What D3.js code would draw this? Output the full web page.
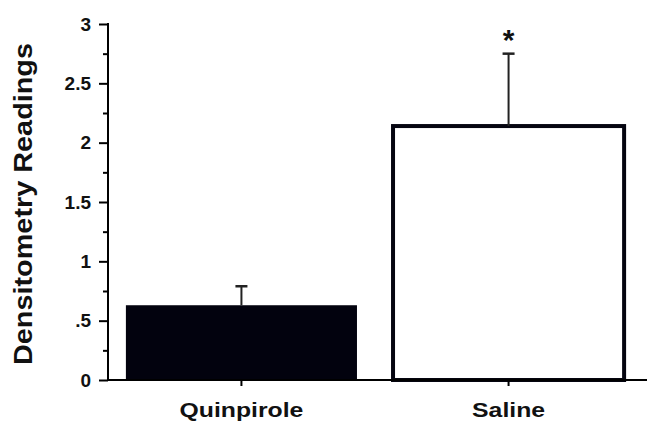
<!DOCTYPE html>
<html>
<head>
<meta charset="utf-8">
<script src="https://cdn.jsdelivr.net/npm/d3@7"></script>
<style>
  body { margin: 0; background: #fff; }
  text { font-family: "Liberation Sans", Arial, sans-serif; font-weight: bold; fill: #111; }
</style>
</head>
<body>
<div id="chart"></div>
<script>
  var groups = ["Quinpirole", "Saline"];
  var means = [0.63, 2.14];
  var errors = [0.16, 0.61];
  var marks = ["", "*"];
  var yTicks = [0, 0.5, 1, 1.5, 2, 2.5, 3];
  var yTickLabels = ["0", ".5", "1", "1.5", "2", "2.5", "3"];
  var yMinorTicks = [0.25, 0.75, 1.25, 1.75, 2.25, 2.75];

  var margin = { top: 24, right: 4, bottom: 43, left: 108 };
  var width = 647 - margin.left - margin.right;
  var height = 423 - margin.top - margin.bottom;

  var svg = d3.select("#chart")
    .append("svg")
    .attr("width", 647)
    .attr("height", 423)
    .append("g")
    .attr("transform", "translate(" + margin.left + "," + margin.top + ")");

  var y = d3.scaleLinear().domain([0, 3]).range([height, 0]);
  var x = d3.scaleBand().domain(groups).range([0, 534]).paddingInner(0.135).paddingOuter(0.067);

  // bars
  svg.selectAll(".bar")
    .data(groups)
    .enter().append("rect")
    .attr("class", "bar")
    .attr("x", function(d) { return x(d); })
    .attr("y", function(d, i) { return y(means[i]); })
    .attr("width", x.bandwidth())
    .attr("height", function(d, i) { return height - y(means[i]); })
    .style("fill", function(d, i) { return i === 0 ? "#02020e" : "#fff"; })
    .style("stroke", function(d, i) { return i === 0 ? "none" : "#050510"; })
    .style("stroke-width", 4);

  // error bars (upper only)
  var err = svg.selectAll(".err")
    .data(groups)
    .enter().append("g")
    .attr("class", "err")
    .attr("transform", function(d) { return "translate(" + (x(d) + x.bandwidth() / 2) + ",0)"; });

  err.append("line")
    .attr("y1", function(d, i) { return y(means[i]); })
    .attr("y2", function(d, i) { return y(means[i] + errors[i]); })
    .style("stroke", "#222")
    .style("stroke-width", 2);

  err.append("line")
    .attr("x1", -6).attr("x2", 6)
    .attr("y1", function(d, i) { return y(means[i] + errors[i]); })
    .attr("y2", function(d, i) { return y(means[i] + errors[i]); })
    .style("stroke", "#222")
    .style("stroke-width", 2.5);

  err.append("text")
    .text(function(d, i) { return marks[i]; })
    .attr("y", function(d, i) { return y(means[i] + errors[i]) - 4; })
    .style("text-anchor", "middle")
    .style("font-size", "30px");

  // y axis
  var yAxis = svg.append("g")
    .call(d3.axisLeft(y).tickValues(yTicks).tickSize(9).tickPadding(8)
      .tickFormat(function(d, i) { return yTickLabels[i]; }));
  yAxis.select(".domain").attr("d", "M0," + (height + 1) + "V" + (y(3) - 1)).style("stroke-width", 2);
  yAxis.selectAll(".tick line").style("stroke-width", 2);
  yAxis.selectAll(".tick text").style("font-size", "19px");

  svg.append("g")
    .call(d3.axisLeft(y).tickValues(yMinorTicks).tickSize(5).tickFormat(""))
    .call(function(g) { g.select(".domain").remove(); })
    .selectAll("line").style("stroke-width", 2);

  // x axis
  var xAxis = svg.append("g")
    .attr("transform", "translate(0," + height + ")")
    .call(d3.axisBottom(x).tickSize(6).tickPadding(0).tickFormat(""));
  xAxis.select(".domain").attr("d", "M0,0H" + (width + 4)).style("stroke-width", 2);
  xAxis.selectAll(".tick line").style("stroke-width", 2);

  // category labels, drawn a bit wide like the original
  svg.selectAll(".catLabel")
    .data(groups)
    .enter().append("text")
    .attr("class", "catLabel")
    .attr("transform", function(d) { return "translate(" + (x(d) + x.bandwidth() / 2) + "," + (height + 37) + ") scale(1.18,1)"; })
    .style("text-anchor", "middle")
    .style("font-size", "21px")
    .text(function(d) { return d; });

  // axis title
  svg.append("text")
    .attr("transform", "rotate(-90)")
    .attr("x", -(204 - margin.top))
    .attr("y", -76)
    .attr("textLength", 322)
    .attr("lengthAdjust", "spacingAndGlyphs")
    .style("text-anchor", "middle")
    .style("font-size", "26px")
    .text("Densitometry Readings");
</script>
</body>
</html>
